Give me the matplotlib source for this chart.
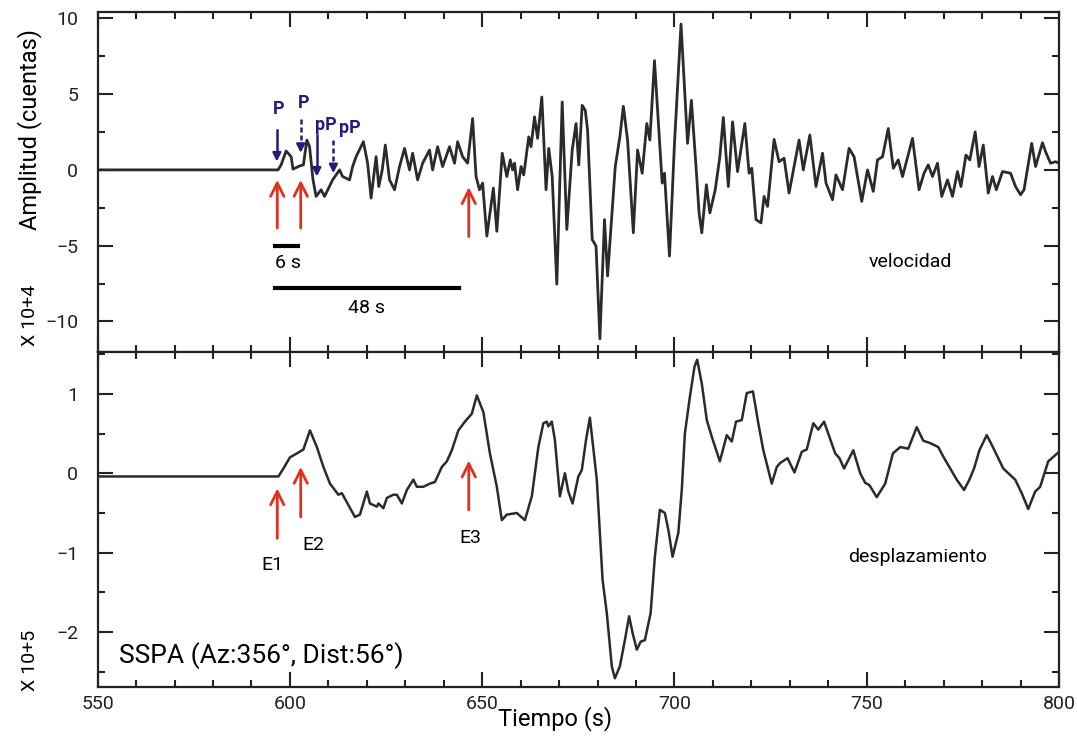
import matplotlib
matplotlib.use("Agg")
import matplotlib.pyplot as plt
from matplotlib.ticker import MultipleLocator

# -------------------------------
# Data (station SSPA)
# -------------------------------
# velocity trace, amplitude in units of 10^4 counts
vel_t = [550.0, 596.9, 597.7, 599.0, 600.3, 600.8, 602.5, 603.5, 604.4, 605.1,
         606.0, 606.8, 608.1, 609.0, 611.1, 612.9, 613.7, 615.5, 616.3, 617.2,
         619.1, 620.2, 621.1, 622.4, 623.1, 624.0, 624.8, 625.9, 627.2, 628.5,
         629.8, 631.1, 631.9, 633.2, 634.5, 636.3, 637.1, 638.4, 639.7, 641.5,
         642.8, 643.6, 644.9, 646.2, 647.5, 648.4, 649.3, 650.1, 651.2, 652.9,
         653.8, 655.2, 656.4, 657.3, 657.9, 658.4, 659.2, 660.1, 660.8, 662.1,
         662.7, 663.6, 664.4, 665.5, 666.6, 667.3, 668.2, 669.4, 670.8, 672.0,
         673.4, 674.4, 675.1, 676.0, 676.8, 677.4, 678.6, 679.6, 680.6, 681.8,
         682.6, 684.6, 685.8, 686.7, 687.8, 689.3, 690.4, 691.6, 692.8, 693.6,
         694.8, 696.8, 697.4, 698.7, 700.0, 701.7, 703.4, 704.4, 705.6, 706.4,
         707.1, 708.3, 709.2, 710.6, 711.8, 712.7, 714.0, 715.1, 716.4, 718.3,
         719.4, 720.1, 721.2, 722.5, 723.3, 724.2, 725.9, 727.2, 728.5, 729.8,
         732.4, 733.5, 735.2, 736.8, 738.5, 739.4, 741.1, 742.0, 743.7, 745.4,
         746.7, 748.7, 750.2, 751.7, 752.8, 754.1, 755.6, 756.9, 758.2, 759.3,
         761.9, 763.6, 764.9, 766.0, 767.1, 768.4, 769.5, 771.0, 772.3, 773.6,
         774.5, 775.8, 776.8, 778.2, 779.2, 780.3, 781.6, 782.7, 783.7, 785.3,
         787.4, 788.7, 790.0, 790.9, 792.9, 793.9, 795.7, 796.5, 797.8, 799.1,
         800.0]
vel_a = [0.0, 0.0, 0.33, 1.25, 0.87, 0.05, 0.26, 0.33, 1.97, 1.53,
         -0.66, -1.75, -1.31, -1.75, -0.66, 0.0, -0.44, -0.66, 0.22, 0.87,
         1.86, 0.44, -1.86, 0.87, -1.10, 0.0, 1.64, -0.66, -1.31, 0.22,
         1.42, 0.0, 1.10, -0.66, 0.44, 1.31, 0.0, 1.53, 0.22, 1.53,
         0.44, 1.86, 0.87, 0.44, 3.39, -0.44, -1.31, -0.87, -4.37, -1.20,
         -4.05, 1.10, -0.44, 0.66, 0.0, 0.44, -1.31, 0.22, -0.33, 2.18,
         1.53, 3.50, 2.08, 4.81, -1.31, 1.42, -0.44, -7.54, 4.48, -3.93,
         1.31, 3.06, 0.33, 4.26, 3.93, 2.62, -4.59, -5.03, -11.15, -3.28,
         -7.00, 0.22, 2.18, 4.20, 1.97, -4.15, 1.31, -0.22, 3.06, 1.97,
         7.21, -0.87, -0.22, -5.69, 1.75, 9.62, 1.75, 4.59, 0.22, -2.84,
         -4.15, -0.98, -2.84, -1.31, 0.87, 3.46, -1.10, 3.17, -0.11, 3.06,
         -0.22, 0.11, -3.28, -3.50, -1.75, -2.41, 2.01, 0.54, 0.77, -1.53,
         1.97, 0.0, 2.30, -1.10, 1.10, -0.87, -1.97, -0.33, -1.31, 1.42,
         0.87, -2.08, 0.0, -1.42, 0.66, 0.87, 2.73, 0.11, 0.66, -0.44,
         2.08, -1.31, -0.22, 0.33, -0.44, 0.44, -1.75, -0.66, -1.75, -0.11,
         -1.10, 0.98, 0.66, 2.51, 0.22, 1.64, -1.53, -0.44, -1.31, -0.11,
         -0.22, -1.10, -1.64, -1.31, 1.75, 0.22, 1.79, 1.20, 0.44, 0.54,
         0.44]

# displacement trace, amplitude in units of 10^5 counts
dis_t = [550.0, 597.0, 598.3, 600.0, 601.8, 603.5, 605.2, 607.0, 608.7, 610.4,
         612.6, 613.5, 615.2, 616.9, 618.2, 620.0, 620.8, 622.6, 623.0, 624.3,
         625.2, 626.9, 627.8, 629.1, 630.4, 632.1, 633.0, 634.7, 636.4, 637.7,
         639.5, 640.8, 642.1, 643.8, 645.5, 647.3, 648.6, 650.3, 652.0, 653.8,
         655.1, 656.4, 659.0, 661.1, 662.9, 664.6, 665.9, 666.8, 667.2, 668.1,
         668.9, 670.2, 671.5, 672.4, 673.5, 675.0, 675.9, 677.0, 678.0, 679.8,
         681.3, 682.4, 683.7, 684.5, 685.8, 687.1, 688.2, 689.1, 690.2, 691.2,
         692.3, 693.8, 694.9, 696.2, 697.5, 698.4, 699.5, 701.0, 701.9, 702.7,
         704.0, 705.2, 705.9, 707.1, 708.4, 709.7, 711.8, 713.6, 714.9, 716.0,
         717.5, 718.8, 720.4, 721.8, 723.1, 725.3, 726.6, 727.5, 729.4, 731.2,
         733.1, 734.4, 736.1, 737.4, 738.9, 741.8, 742.9, 744.1, 746.5, 748.3,
         749.6, 750.7, 752.6, 754.8, 756.8, 758.7, 760.8, 763.0, 764.7, 766.5,
         768.6, 769.9, 773.4, 775.3, 776.7, 777.9, 779.3, 781.2, 782.8, 785.5,
         788.6, 790.3, 792.0, 793.8, 795.1, 797.2, 800.0]
dis_a = [-0.04, -0.04, 0.06, 0.20, 0.25, 0.30, 0.54, 0.33, 0.08, -0.13,
         -0.27, -0.25, -0.40, -0.55, -0.52, -0.23, -0.38, -0.42, -0.38, -0.44,
         -0.31, -0.27, -0.27, -0.38, -0.21, -0.08, -0.17, -0.17, -0.13, -0.11,
         0.08, 0.15, 0.29, 0.54, 0.65, 0.75, 0.98, 0.77, 0.25, -0.17,
         -0.59, -0.52, -0.50, -0.59, -0.29, 0.33, 0.63, 0.65, 0.59, 0.65,
         0.42, -0.29, 0.0, -0.23, -0.38, -0.04, 0.04, 0.42, 0.70, -0.08,
         -1.34, -1.76, -2.43, -2.58, -2.43, -2.10, -1.80, -2.01, -2.22, -2.12,
         -2.10, -1.76, -1.05, -0.46, -0.50, -0.71, -1.05, -0.75, -0.21, 0.50,
         0.96, 1.34, 1.43, 1.13, 0.67, 0.46, 0.15, 0.48, 0.40, 0.65,
         0.67, 1.01, 1.03, 0.63, 0.29, -0.13, 0.08, 0.13, 0.19, 0.01,
         0.27, 0.30, 0.63, 0.55, 0.65, 0.25, 0.19, 0.06, 0.29, 0.0,
         -0.12, -0.15, -0.30, -0.13, 0.25, 0.33, 0.31, 0.58, 0.41, 0.38,
         0.33, 0.21, -0.08, -0.21, -0.08, 0.06, 0.29, 0.48, 0.33, 0.06,
         -0.08, -0.25, -0.45, -0.23, -0.17, 0.15, 0.27]

# phase picks (blue, top panel): label, time, solid/dashed
pick_names = ["P", "P", "pP", "pP"]
pick_times = [596.6, 602.8, 607.0, 611.3]
pick_dashed = [False, True, False, True]
pick_tail = [2.64, 3.36, 2.31, 1.98]
pick_tip = [0.55, 1.12, -0.44, -0.22]
pick_label_t = [597.0, 603.5, 609.3, 615.6]
pick_label_a = [4.0, 4.4, 2.97, 2.77]

# sub-event onsets (red arrows)
event_names = ["E1", "E2", "E3"]
event_times = [596.7, 602.8, 646.5]
vel_arrow_tip = [-0.66, -0.66, -1.14]
vel_arrow_tail = [-3.84, -3.84, -4.4]
dis_arrow_tip = [-0.19, 0.08, 0.16]
dis_arrow_tail = [-0.82, -0.55, -0.46]
event_label_t = [595.3, 606.1, 647.0]
event_label_a = [-1.15, -0.90, -0.82]

# duration bars (start, length in s)
bar_start = 596.0
bar_lengths = [6, 48]
bar_levels = [-5.0, -7.8]

trace_color = "#2b2b2b"
red = "#e0301e"
blue = "#241c7c"

plt.rcParams["font.family"] = ["Roboto", "DejaVu Sans"]

fig = plt.figure(figsize=(10.77, 7.36), dpi=100)
ax1 = fig.add_axes([0.0907, 0.5221, 0.8926, 0.4612])
ax2 = fig.add_axes([0.0907, 0.0666, 0.8926, 0.4555])

ax1.plot(vel_t, vel_a, color=trace_color, lw=2.0, solid_joinstyle="round")
ax2.plot(dis_t, dis_a, color=trace_color, lw=1.8, solid_joinstyle="round")

for ax in (ax1, ax2):
    ax.set_xlim(550, 800)
    ax.xaxis.set_major_locator(MultipleLocator(50))
    ax.xaxis.set_minor_locator(MultipleLocator(10))
    ax.tick_params(which="both", direction="in", top=True, right=True,
                   width=1.5, labelsize=14, colors="#222222")
    ax.tick_params(which="major", length=11)
    ax.tick_params(which="minor", length=5)
    ax.tick_params(axis="y", pad=14)
    ax.tick_params(axis="x", pad=6)
    for s in ax.spines.values():
        s.set_linewidth(1.6)
        s.set_color("#222222")

ax1.set_ylim(-12, 10.4)
ax1.yaxis.set_major_locator(MultipleLocator(5))
ax1.yaxis.set_minor_locator(MultipleLocator(2.5))
ax1.tick_params(axis="x", labelbottom=False)

ax2.set_ylim(-2.69, 1.53)
ax2.yaxis.set_major_locator(MultipleLocator(1))
ax2.yaxis.set_minor_locator(MultipleLocator(0.5))

# blue phase picks
for name, t, dashed, a0, a1, lt, la in zip(pick_names, pick_times, pick_dashed,
                                           pick_tail, pick_tip, pick_label_t, pick_label_a):
    ls = (0, (2, 1.2)) if dashed else "-"
    ax1.plot([t, t], [a0, a1 + 0.5], color=blue, lw=1.8, ls=ls)
    ax1.annotate("", xy=(t, a1), xytext=(t, a1 + 0.6),
                 arrowprops=dict(arrowstyle="-|>", color=blue, lw=1.8,
                                 mutation_scale=12, shrinkA=0, shrinkB=0))
    ax1.text(lt, la, name, color=blue, fontsize=13, fontweight="bold",
             ha="center", va="center")

# red onset arrows
for t, tip, tail in zip(event_times, vel_arrow_tip, vel_arrow_tail):
    ax1.annotate("", xy=(t, tip), xytext=(t, tail),
                 arrowprops=dict(arrowstyle="->", color=red, lw=2.0,
                                 mutation_scale=24, shrinkA=0, shrinkB=0))
for t, tip, tail in zip(event_times, dis_arrow_tip, dis_arrow_tail):
    ax2.annotate("", xy=(t, tip), xytext=(t, tail),
                 arrowprops=dict(arrowstyle="->", color=red, lw=2.0,
                                 mutation_scale=24, shrinkA=0, shrinkB=0))
for name, lt, la in zip(event_names, event_label_t, event_label_a):
    ax2.text(lt, la, name, fontsize=14, ha="center", va="center")

# duration bars
for length, level in zip(bar_lengths, bar_levels):
    ax1.plot([bar_start, bar_start + length], [level, level], color="black", lw=3)
ax1.text(599.5, -6.15, "6 s", fontsize=14, ha="center", va="center")
ax1.text(619.8, -9.1, "48 s", fontsize=14, ha="center", va="center")

ax1.text(761.3, -6.06, "velocidad", fontsize=14, ha="center", va="center")
ax2.text(763.1, -1.05, "desplazamiento", fontsize=14, ha="center", va="center")
ax2.text(555.5, -2.29, "SSPA (Az:356°, Dist:56°)", fontsize=19,
         ha="left", va="center")

fig.text(555 / 1077, 1 - 719 / 736, "Tiempo (s)", fontsize=17,
         ha="center", va="center")
fig.text(30 / 1077, 1 - 130 / 736, "Amplitud (cuentas)", fontsize=17,
         rotation=90, ha="center", va="center")
fig.text(30 / 1077, 1 - 315 / 736, "X 10+4", fontsize=14,
         rotation=90, ha="center", va="center")
fig.text(30 / 1077, 1 - 660 / 736, "X 10+5", fontsize=14,
         rotation=90, ha="center", va="center")

fig.savefig("out.png", dpi=100)
